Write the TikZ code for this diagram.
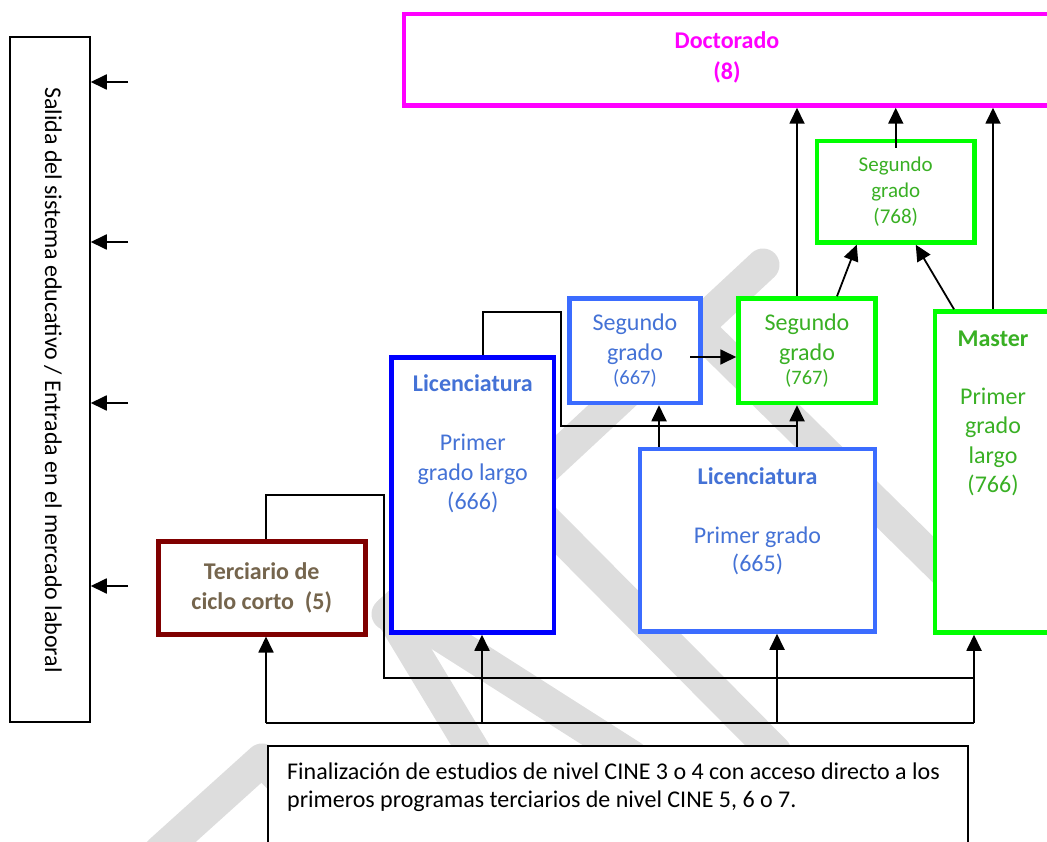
\documentclass[tikz,border=0pt]{standalone}
\usepackage{fontspec}
\setmainfont{Carlito}
\usetikzlibrary{arrows.meta}
\definecolor{doctmag}{RGB}{255,0,255}
\definecolor{bluelic}{RGB}{0,0,255}
\definecolor{blueseg}{RGB}{59,108,255}
\definecolor{bluetxt}{RGB}{68,114,214}
\definecolor{greenbox}{RGB}{0,255,0}
\definecolor{greentxt}{RGB}{57,176,36}
\definecolor{tercbox}{RGB}{128,0,0}
\definecolor{terctxt}{RGB}{117,101,77}
\definecolor{wmarkgray}{RGB}{221,221,221}
\tikzset {
    flow/.style={line width=1.8pt},
    flowarrow/.style={flow, -{Triangle[length=16pt,width=15pt]}},
    levelbox/.style={draw, line width=4.5pt, fill=white, inner sep=0pt, align=center,
        font=\fontsize{24}{29.5}\selectfont},
    lbl/.style={inner sep=0pt, align=center, font=\fontsize{24}{29.5}\selectfont},
    wmarkband/.style={line width=33pt, wmarkgray, line cap=round, line join=round}
}

\begin{document}
\begin{tikzpicture}[x=1pt, y=-1pt]
    \useasboundingbox (0,0) rectangle (1047,842);
    \clip (0,0) rectangle (1047,842);

    \draw[wmarkband] (763,265) -- (388,614);
    \draw[wmarkband] (705,335) -- (962,588);
    \draw[wmarkband] (530,505) -- (775,752);
    \draw[wmarkband] (390,612) -- (478,758);
    \draw[wmarkband] (398,608) -- (632,757);
    \draw[wmarkband] (160,852) -- (262,760) -- (312,810);

    \node[levelbox, draw=black, line width=1.5pt, minimum width=80pt, minimum height=685pt] (salida) at (50,379.5) {};
    \node[lbl, rotate=-90] (salidatxt) at (53,380) {Salida del sistema educativo / Entrada en el mercado laboral};

    \node[levelbox, draw=doctmag, minimum width=666pt, minimum height=91.5pt] (doct) at (737,59.75) {};
    \node[lbl, text=doctmag, font=\fontsize{24}{31}\selectfont\bfseries] (docttxt) at (727,57.5) {Doctorado\\(8)};

    \node[levelbox, draw=greenbox, text=greentxt, minimum width=157.5pt, minimum height=101.5pt,
        font=\fontsize{21}{26}\selectfont] (seg768) at (895.75,191.75) {Segundo\\grado\\(768)};
    \node[levelbox, draw=blueseg, text=bluetxt, minimum width=131pt, minimum height=104.5pt] (seg667) at (635,350.75)
        {Segundo\\grado\\[-5pt]{\fontsize{20.5}{25}\selectfont(667)}};
    \node[levelbox, draw=greenbox, text=greentxt, minimum width=137pt, minimum height=104.5pt] (seg767) at (807,350.75)
        {Segundo\\grado\\[-5pt]{\fontsize{20.5}{25}\selectfont(767)}};

    \node[levelbox, draw=blueseg, minimum width=235pt, minimum height=182.5pt] (lic665) at (757.5,540.25) {};
    \node[lbl, text=bluetxt] (lic665txt) at (757.5,521) {\textbf{Licenciatura}\\[29.5pt]Primer grado\\[-1.5pt](665)};

    \node[levelbox, draw=bluelic, minimum width=162.5pt, minimum height=275pt] (lic666) at (472.75,495) {};
    \node[lbl, text=bluetxt] (lic666txt) at (472.75,444) {\textbf{Licenciatura}\\[29.5pt]Primer\\grado largo\\(666)};

    \node[levelbox, draw=greenbox, minimum width=125pt, minimum height=321pt] (master) at (997.5,472) {};
    \node[lbl, text=greentxt] (mastertxt) at (993,413.5) {\textbf{Master}\\[28pt]Primer\\grado\\largo\\(766)};

    \node[levelbox, draw=tercbox, text=terctxt, line width=5pt, minimum width=207.5pt, minimum height=93pt,
        font=\fontsize{24}{30}\selectfont\bfseries] (terc) at (261.75,587.5) {Terciario de\\ciclo corto\ \ (5)};

    \node[levelbox, draw=black, line width=1.5pt, minimum width=700pt, minimum height=134pt] (finbox) at (618,813) {};
    \node[lbl, align=left, anchor=west, font=\fontsize{24}{28}\selectfont] (fintxt) at (287,787)
        {Finalización de estudios de nivel CINE 3 o 4 con acceso directo a los\\primeros programas terciarios de nivel CINE 5, 6 o 7.};

    \coordinate (out1) at (128,82);
    \coordinate (out2) at (128,242);
    \coordinate (out3) at (128,403);
    \coordinate (out4) at (128,586);
    \coordinate (busL) at (266,723);
    \coordinate (bus666) at (482,723);
    \coordinate (bus665) at (777,723);
    \coordinate (busR) at (974,723);
    \coordinate (tercup) at (266,495);
    \coordinate (tercupR) at (384,495);
    \coordinate (midL) at (384,678);
    \coordinate (licup) at (483,312);
    \coordinate (licupR) at (561,312);
    \coordinate (licmid) at (561,426);
    \coordinate (x667) at (659,0);
    \coordinate (x767) at (797,0);
    \coordinate (x766) at (993,0);
    \coordinate (s667) at (690,357);

    \draw[flow] (busL) -- (busR);
    \draw[flow] (tercup |- terc.north) -- (tercup) -- (tercupR) -- (midL) -- (midL -| busR);
    \draw[flow] (licup |- lic666.north) -- (licup) -- (licupR) -- (licmid) -- (licmid -| x767);

    \draw
    (out1) edge[flowarrow] (out1 -| salida.east)
    (out2) edge[flowarrow] (out2 -| salida.east)
    (out3) edge[flowarrow] (out3 -| salida.east)
    (out4) edge[flowarrow] (out4 -| salida.east)
    (busL) edge[flowarrow] (busL |- terc.south)
    (bus666) edge[flowarrow] (bus666 |- lic666.south)
    (bus665) edge[flowarrow] (bus665 |- lic665.south)
    (busR) edge[flowarrow] (busR |- master.south)
    (x667 |- lic665.north) edge[flowarrow] (x667 |- seg667.south)
    (x767 |- lic665.north) edge[flowarrow] (x767 |- seg767.south)
    (s667) edge[flowarrow] (s667 -| seg767.west)
    (x767 |- seg767.north) edge[flowarrow] (x767 |- doct.south)
    ([yshift=-9pt]seg768.north) edge[flowarrow] (seg768.north |- doct.south)
    (x766 |- master.north) edge[flowarrow] (x766 |- doct.south)
    ([xshift=30pt]seg767.north) edge[flowarrow] ([xshift=-39pt]seg768.south)
    ([xshift=-43.5pt]master.north) edge[flowarrow] ([xshift=20pt]seg768.south);
\end{tikzpicture}
\end{document}
